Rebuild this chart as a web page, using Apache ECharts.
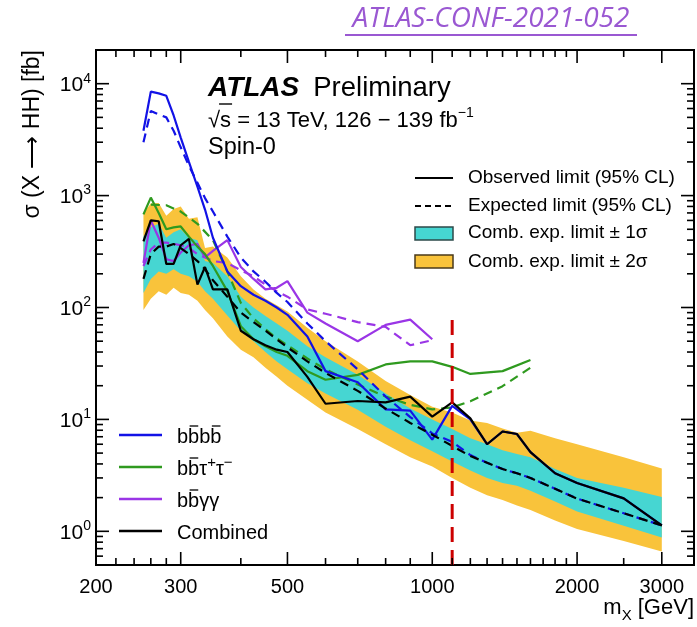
<!DOCTYPE html>
<html>
<head>
<meta charset="utf-8">
<script src="https://cdn.jsdelivr.net/npm/echarts@6/dist/echarts.min.js"></script>
<style>
  html, body { margin: 0; padding: 0; background: #fff; }
  #chart { width: 697px; height: 627px; }
</style>
</head>
<body>
<div id="chart"></div>
<script>
// Resonance mass points [GeV] for the combination and bbbb
const massPoints = [251, 260, 270, 280, 290, 300, 312, 325, 337, 350, 375, 400, 425, 450, 475, 500,
                    550, 600, 700, 800, 900, 1000, 1100, 1200, 1300, 1400, 1500, 1600, 1800, 2000, 2500, 3000];

// Combined limits [fb]
const combinedObserved = [390, 600, 590, 245, 245, 360, 410, 160, 230, 145, 145, 62, 52, 46, 42, 40,
                          24, 13.8, 14.6, 14.2, 16, 10.6, 14.2, 10.2, 6.0, 7.8, 7.4, 5.1, 3.3, 2.7, 1.97, 1.13];
const combinedExpected = [180, 300, 350, 350, 370, 340, 300, 260, 220, 175, 125, 90, 74, 62, 52, 44,
                          33, 26, 18, 12.5, 9.3, 7.3, 5.8, 4.7, 4.1, 3.6, 3.3, 3.0, 2.4, 1.96, 1.45, 1.13];
const combinedPlus2 = [700, 850, 860, 660, 760, 800, 620, 640, 340, 350, 280, 190, 145, 120, 105, 92,
                       66, 50, 33, 22, 16.5, 13, 11.5, 9.8, 9.3, 8.3, 7.6, 7.9, 6.8, 6.0, 4.6, 3.65];
const combinedPlus1 = [430, 520, 560, 420, 470, 500, 420, 400, 260, 250, 190, 125, 100, 84, 72, 62,
                       45, 36, 25, 17, 12.5, 10, 8.2, 6.8, 6.0, 5.3, 4.9, 4.6, 3.6, 3.0, 2.45, 2.03];
const combinedMinus1 = [135, 180, 210, 200, 220, 200, 190, 170, 140, 120, 85, 62, 50, 40, 33, 28,
                        21, 17, 12.2, 8.6, 6.5, 5.2, 4.2, 3.5, 3.0, 2.7, 2.55, 2.3, 1.85, 1.5, 1.12, 0.88];
const combinedMinus2 = [95, 120, 140, 130, 150, 135, 130, 115, 95, 80, 55, 42, 36, 29, 24, 20,
                        15, 11.5, 8.2, 6.0, 4.6, 3.8, 3.0, 2.45, 2.1, 1.9, 1.7, 1.55, 1.25, 1.05, 0.82, 0.66];

// bbbb limits [fb] (same mass points)
const bbbbObserved = [3800, 8500, 8200, 7800, 5200, 3300, 2000, 1200, 750, 420, 210, 155, 130, 115, 100, 86,
                      55, 27, 21.5, 12.3, 12, 6.6, 13.2, 10, 6.0, 7.8, 7.4, 5.1, 3.3, 2.7, 1.97, 1.13];
const bbbbExpected = [3000, 5700, 5300, 5000, 3800, 2700, 1850, 1300, 950, 720, 430, 280, 210, 170, 135, 112,
                      72, 50, 28, 16, 10.5, 7.5, 6.3, 4.8, 4.1, 3.6, 3.3, 3.0, 2.4, 1.96, 1.45, 1.13];

// bbtautau limits [fb]
const bbttObsMass = [251, 260, 270, 280, 290, 300, 312, 325, 337, 350, 375, 400, 425, 450, 475, 500,
                     550, 600, 700, 800, 900, 1000, 1100, 1200, 1400, 1600];
const bbttObserved = [680, 960, 700, 500, 520, 530, 430, 350, 300, 235, 140, 68, 52, 45, 40, 37,
                      27, 22.6, 25, 31, 33, 33, 29.5, 25.5, 27, 34];
const bbttExpMass = [260, 280, 300, 325, 350, 375, 400, 425, 450, 475, 500, 550, 600, 700, 800, 900,
                     1000, 1100, 1200, 1400, 1600];
const bbttExpected = [830, 820, 720, 560, 400, 210, 110, 80, 64, 53, 46, 35, 28, 20.5, 16, 13.5,
                      12.3, 12.8, 14.5, 19.8, 29];

// bbgammagamma limits [fb]
const bbyyMass = [251, 260, 270, 280, 290, 300, 312, 325, 337, 350, 375, 400, 425, 450, 475, 500,
                  550, 600, 700, 800, 900, 1000];
const bbyyObserved = [250, 600, 420, 270, 260, 310, 360, 370, 280, 320, 400, 230, 180, 145, 150, 172,
                      90, 72, 50, 70, 78, 52];
const bbyyExpected = [235, 330, 380, 380, 370, 360, 340, 300, 280, 260, 250, 215, 190, 160, 140, 125,
                      96, 88, 74, 67, 46, 51];

// Vertical marker
const markerMass = 1100;
const markerRange = [0.5, 78];

// Axis ticks
const xRange = [200, 3500];
const yRange = [0.5, 20000];
const xMajorTicks = [200, 300, 500, 1000, 2000, 3000];
const xMinorTicks = [220, 240, 260, 280, 400, 600, 700, 800, 900, 1100, 1200, 1300, 1400, 1500,
                     1600, 1700, 1800, 1900, 2500];
const yMajorTicks = [1, 10, 100, 1000, 10000];
const yTickExponents = ['0', '1', '2', '3', '4'];
const yMinorTicks = [0.6, 0.7, 0.8, 0.9, 2, 3, 4, 5, 6, 7, 8, 9, 20, 30, 40, 50, 60, 70, 80, 90,
                     200, 300, 400, 500, 600, 700, 800, 900, 2000, 3000, 4000, 5000, 6000, 7000, 8000, 9000];

const FONT = '"Liberation Sans", Arial, Helvetica, sans-serif';
const COLORS = {
  blue: '#1212e6', green: '#2f9a1f', purple: '#9a35e6', black: '#000000',
  cyan: '#46d6d2', yellow: '#f9c33b', red: '#cc0000'
};

const pairs = (xs, ys) => xs.map((x, i) => [x, ys[i]]);

function band(upper, lower, color, z) {
  return {
    type: 'custom', silent: true, z: z, clip: true,
    data: [[massPoints[0], upper[0]]],
    renderItem: (params, api) => {
      const pts = [];
      for (let i = 0; i < massPoints.length; i++) pts.push(api.coord([massPoints[i], upper[i]]));
      for (let i = massPoints.length - 1; i >= 0; i--) pts.push(api.coord([massPoints[i], lower[i]]));
      return { type: 'polygon', shape: { points: pts }, style: { fill: color } };
    }
  };
}

function curve(data, color, dashed, z) {
  return {
    type: 'line', data: data, symbol: 'none', silent: true, z: z, clip: true,
    lineStyle: { color: color, width: 2.2, type: dashed ? [9, 6] : 'solid' }
  };
}

// Axis frame ticks and labels, placed through the axis scales
const axisDecor = {
  type: 'custom', silent: true, z: 20, clip: false,
  data: [[1000, 10]],
  renderItem: (params, api) => {
    const cs = params.coordSys;
    const left = cs.x, right = cs.x + cs.width, top = cs.y, bottom = cs.y + cs.height;
    const kids = [];
    const seg = (x1, y1, x2, y2) => kids.push({
      type: 'line', shape: { x1, y1, x2, y2 }, style: { stroke: '#000', lineWidth: 1.6 }
    });
    xMajorTicks.forEach(v => {
      const px = api.coord([v, 1])[0];
      seg(px, bottom, px, bottom - 13); seg(px, top, px, top + 13);
      kids.push({
        type: 'text', x: px, y: bottom + 12,
        style: { text: String(v), font: '20px ' + FONT, fill: '#000',
                 align: 'center', verticalAlign: 'top', textAlign: 'center', textVerticalAlign: 'top' }
      });
    });
    xMinorTicks.forEach(v => {
      const px = api.coord([v, 1])[0];
      seg(px, bottom, px, bottom - 7); seg(px, top, px, top + 7);
    });
    yMajorTicks.forEach((v, i) => {
      const py = api.coord([1000, v])[1];
      seg(left, py, left + 13, py); seg(right, py, right - 13, py);
      kids.push({
        type: 'text', x: left - 5, y: py,
        style: {
          text: '{b|10}{s|' + yTickExponents[i] + '}',
          align: 'right', verticalAlign: 'middle', textAlign: 'right', textVerticalAlign: 'middle',
          rich: {
            b: { fontSize: 21, fontFamily: FONT, fill: '#000', lineHeight: 24, verticalAlign: 'bottom' },
            s: { fontSize: 14, fontFamily: FONT, fill: '#000', lineHeight: 24, verticalAlign: 'top' }
          }
        }
      });
    });
    yMinorTicks.forEach(v => {
      const py = api.coord([1000, v])[1];
      seg(left, py, left + 7, py); seg(right, py, right - 7, py);
    });
    return { type: 'group', children: kids };
  }
};

// Text helpers for the annotation layer
const measureCtx = document.createElement('canvas').getContext('2d');
function textWidth(str, font) { measureCtx.font = font; return measureCtx.measureText(str).width; }

function txt(x, y, text, font, extra) {
  return {
    type: 'text', x: x, y: y, silent: true, z: 30,
    style: Object.assign({ text: text, font: font, fill: '#000',
      align: 'left', verticalAlign: 'middle', textAlign: 'left', textVerticalAlign: 'middle' }, extra || {})
  };
}
function richTxt(x, y, text, rich, extra) {
  return {
    type: 'text', x: x, y: y, silent: true, z: 30,
    style: Object.assign({ text: text, rich: rich,
      align: 'left', verticalAlign: 'middle', textAlign: 'left', textVerticalAlign: 'middle' }, extra || {})
  };
}
function hline(x1, x2, y, color, width, dash) {
  return { type: 'line', silent: true, z: 30,
    shape: { x1: x1, y1: y, x2: x2, y2: y },
    style: { stroke: color, lineWidth: width, lineDash: dash || null } };
}

// Macron bars above selected b's of a legend label
function bbarMarks(x0, y, font, text, barIdx) {
  const out = [];
  barIdx.forEach(i => {
    const a = textWidth(text.slice(0, i), font);
    const b = textWidth(text.slice(0, i + 1), font);
    out.push(hline(x0 + a + 1.5, x0 + b - 1, y - 9, '#000', 1.3));
  });
  return out;
}

const legFont = '20px ' + FONT;
const legRich = {
  m: { fontSize: 20, fontFamily: FONT, fill: '#000', lineHeight: 24, verticalAlign: 'bottom' },
  s: { fontSize: 15, fontFamily: FONT, fill: '#000', lineHeight: 24, verticalAlign: 'top' }
};
const lx1 = 119, lx2 = 162, ltx = 177;
const procRows = [
  { y: 435, color: COLORS.blue, plain: 'bbbb', label: '{m|bbbb}', bars: [1, 3] },
  { y: 467, color: COLORS.green, plain: 'bbτ', label: '{m|bbτ}{s|+}{m|τ}{s|−}', bars: [1] },
  { y: 499, color: COLORS.purple, plain: 'bbγγ', label: '{m|bbγγ}', bars: [1] },
  { y: 531, color: COLORS.black, plain: 'Combined', label: '{m|Combined}', bars: [] }
];

const graphics = [];
// Note label above the frame
graphics.push(txt(491, 19, 'ATLAS-CONF-2021-052', 'italic 28px "Open Sans", ' + FONT,
  { fill: '#9a58d2', align: 'center', textAlign: 'center' }));
graphics.push(hline(345, 637, 35, '#9a58d2', 2));

// ATLAS label block
const atlasFont = 'italic bold 28px ' + FONT;
graphics.push(txt(208, 88, 'ATLAS', atlasFont));
graphics.push(txt(208 + textWidth('ATLAS', atlasFont) + 14, 88, 'Preliminary', '27.5px ' + FONT));
const energyFont = '22px ' + FONT;
graphics.push(richTxt(208, 119, '{m|√s = 13 TeV, 126 − 139 fb}{s|−1}', {
  m: { fontSize: 22, fontFamily: FONT, fill: '#000', lineHeight: 26, verticalAlign: 'bottom' },
  s: { fontSize: 14, fontFamily: FONT, fill: '#000', lineHeight: 26, verticalAlign: 'top' }
}));
const rootW = textWidth('√', energyFont);
graphics.push(hline(208 + rootW - 1, 208 + rootW + textWidth('s', energyFont) + 1, 104, '#000', 1.4));
graphics.push(txt(208, 148, 'Spin-0', '23.5px ' + FONT));

// Limit-type legend
const tlx1 = 415, tlx2 = 453, ttx = 468, tFont = '19px ' + FONT;
graphics.push(hline(tlx1, tlx2, 178, '#000', 2));
graphics.push(txt(ttx, 178, 'Observed limit (95% CL)', tFont));
graphics.push(hline(tlx1, tlx2, 206, '#000', 2, [6, 4]));
graphics.push(txt(ttx, 206, 'Expected limit (95% CL)', tFont));
graphics.push({ type: 'rect', silent: true, z: 30, shape: { x: tlx1, y: 227, width: tlx2 - tlx1, height: 13 },
  style: { fill: COLORS.cyan, stroke: '#2d4a4a', lineWidth: 1.5 } });
graphics.push(txt(ttx, 233, 'Comb. exp. limit ± 1σ', tFont));
graphics.push({ type: 'rect', silent: true, z: 30, shape: { x: tlx1, y: 255, width: tlx2 - tlx1, height: 13 },
  style: { fill: COLORS.yellow, stroke: '#4a3a1a', lineWidth: 1.5 } });
graphics.push(txt(ttx, 262, 'Comb. exp. limit ± 2σ', tFont));

// Channel legend
procRows.forEach(r => {
  graphics.push(hline(lx1, lx2, r.y, r.color, 2.5));
  graphics.push(richTxt(ltx, r.y, r.label, legRich));
  bbarMarks(ltx, r.y, legFont, r.plain, r.bars).forEach(g => graphics.push(g));
});

// Axis titles
graphics.push({
  type: 'text', x: 33, y: 50, rotation: Math.PI / 2, silent: true, z: 30,
  style: { text: 'σ (X ⟶ HH) [fb]', font: '23px ' + FONT, fill: '#000',
           align: 'right', verticalAlign: 'middle', textAlign: 'right', textVerticalAlign: 'middle' }
});
graphics.push(richTxt(694, 610, '{m|m}{s|X}{m| [GeV]}', {
  m: { fontSize: 22, fontFamily: FONT, fill: '#000', lineHeight: 26, verticalAlign: 'top' },
  s: { fontSize: 15, fontFamily: FONT, fill: '#000', lineHeight: 26, verticalAlign: 'bottom' }
}, { align: 'right', textAlign: 'right' }));

const chart = echarts.init(document.getElementById('chart'), null, { renderer: 'canvas', width: 697, height: 627 });
chart.setOption({
  animation: false,
  backgroundColor: '#fff',
  grid: { left: 96, top: 50, right: 3, bottom: 62, show: true, borderColor: '#000', borderWidth: 2,
          backgroundColor: 'transparent', containLabel: false },
  xAxis: { type: 'log', logBase: 10, min: xRange[0], max: xRange[1],
           axisLine: { show: false }, axisTick: { show: false }, axisLabel: { show: false }, splitLine: { show: false } },
  yAxis: { type: 'log', logBase: 10, min: yRange[0], max: yRange[1],
           axisLine: { show: false }, axisTick: { show: false }, axisLabel: { show: false }, splitLine: { show: false } },
  graphic: { elements: graphics },
  series: [
    band(combinedPlus2, combinedMinus2, COLORS.yellow, 1),
    band(combinedPlus1, combinedMinus1, COLORS.cyan, 2),
    curve(pairs(bbyyMass, bbyyExpected), COLORS.purple, true, 5),
    curve(pairs(bbyyMass, bbyyObserved), COLORS.purple, false, 5),
    curve(pairs(bbttExpMass, bbttExpected), COLORS.green, true, 6),
    curve(pairs(bbttObsMass, bbttObserved), COLORS.green, false, 6),
    curve(pairs(massPoints, bbbbExpected), COLORS.blue, true, 7),
    curve(pairs(massPoints, bbbbObserved), COLORS.blue, false, 7),
    curve(pairs(massPoints, combinedExpected), COLORS.black, true, 8),
    curve(pairs(massPoints, combinedObserved), COLORS.black, false, 9),
    {
      type: 'line', data: [[markerMass, markerRange[0]], [markerMass, markerRange[1]]], symbol: 'none', silent: true, z: 10,
      lineStyle: { color: COLORS.red, width: 3, type: [15, 8] }
    },
    axisDecor
  ]
});
</script>
</body>
</html>
